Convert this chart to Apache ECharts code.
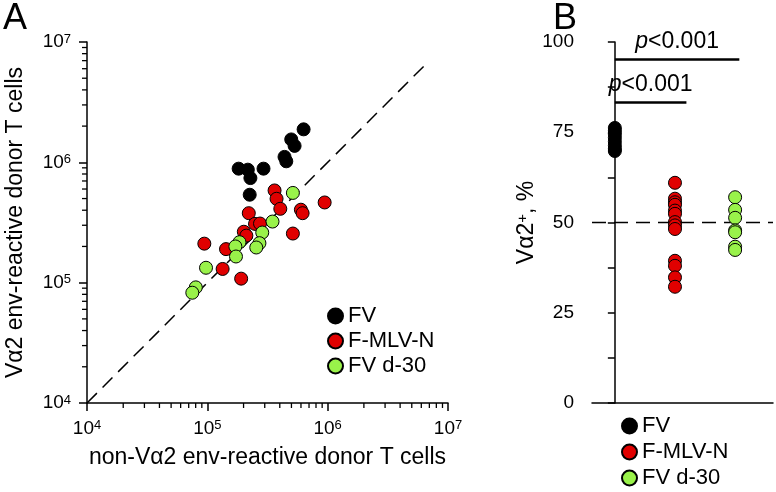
<!DOCTYPE html>
<html><head><meta charset="utf-8">
<script src="https://cdn.jsdelivr.net/npm/echarts@6/dist/echarts.min.js"></script>
<style>html,body{margin:0;padding:0;background:#fff}#c{width:776px;height:492px}</style>
</head><body><div id="c"></div>
<script>
// ---- data ----
const seriesNames = ['FV', 'F-MLV-N', 'FV d-30'];
const seriesColors = ['#000000', '#e00000', '#99f24a'];

// Panel A: [non-Vα2 env-reactive, Vα2 env-reactive] donor T cells
const fvA = [[6.31e5,1.88e6],[4.98e5,1.55e6],[5.31e5,1.37e6],[4.38e5,1.11e6],[4.53e5,1.02e6],
             [2.93e5,8.86e5],[1.82e5,8.86e5],[2.17e5,8.69e5],[2.28e5,7.40e5],[2.25e5,5.38e5]];
const fmlvA = [[3.62e5,5.84e5],[3.76e5,4.98e5],[4.04e5,4.11e5],[5.99e5,4.04e5],[6.19e5,3.78e5],
               [9.44e5,4.64e5],[2.21e5,3.78e5],[2.49e5,3.08e5],[2.74e5,3.10e5],[2.01e5,2.65e5],
               [2.11e5,2.46e5],[5.14e5,2.56e5],[9.44e4,2.11e5],[1.43e5,1.90e5],[1.34e5,1.30e5],
               [1.91e5,1.08e5]];
const d30A = [[5.14e5,5.57e5],[3.48e5,3.22e5],[2.86e5,2.61e5],[2.71e5,2.13e5],[2.55e5,1.96e5],
              [1.85e5,2.17e5],[1.71e5,2.00e5],[1.73e5,1.65e5],[9.75e4,1.33e5],[8.02e4,9.14e4],
              [7.50e4,8.25e4]];
const diagA = [1e4, 6.8e6];
const logRangeA = [1e4, 1e7];
const minorTicksA = [2e4,3e4,4e4,5e4,6e4,7e4,8e4,9e4,
                     2e5,3e5,4e5,5e5,6e5,7e5,8e5,9e5,
                     2e6,3e6,4e6,5e6,6e6,7e6,8e6,9e6];

// Panel B: Vα2+ %
const groupsB = ['FV', 'F-MLV-N', 'FV d-30'];
const fvB = [76.2, 75.4, 74.5, 73.5, 72.4, 71.3, 70.4, 69.8];
const fmlvB = [61.0, 56.6, 55.6, 54.9, 53.3, 52.4, 50.1, 49.2, 48.2, 39.4, 38.0, 34.8, 32.2];
const d30B = [57.0, 53.5, 51.3, 47.8, 47.3, 43.3, 42.4];
const refB = 50;
const yLabelsB = [0, 25, 50, 75, 100];
const sigB = [ {from: 0, to: 2.07, y: 95.2, text: 'p<0.001'},
               {from: 0, to: 1.19, y: 83.3, text: 'p<0.001'} ];

// ---- chart ----
const FONT = 'Liberation Sans, Arial, Helvetica, sans-serif';
const chart = echarts.init(document.getElementById('c'), null, {renderer: 'canvas'});
const axisLine = {show: true, lineStyle: {color: '#000', width: 1.5}};
const supRich = {
  b: {fontSize: 19, color: '#000', fontFamily: FONT},
  s: {fontSize: 13, color: '#000', fontFamily: FONT, verticalAlign: 'top'}
};
const powLabel = v => '{b|10}{s|' + Math.round(Math.log10(v)) + '}';

function scatter(name, idx, data, xi, yi) {
  return {
    type: 'scatter', name: name, xAxisIndex: xi, yAxisIndex: yi, data: data,
    symbolSize: 13, z: 3 + idx,
    itemStyle: {color: seriesColors[idx], borderColor: '#000', borderWidth: 1, opacity: 1}
  };
}
function minorTicks(dir) {
  return {
    type: 'custom', xAxisIndex: 0, yAxisIndex: 0, silent: true, clip: false, z: 2,
    data: minorTicksA.map(v => [v, v]),
    renderItem: function (params, api) {
      const v = api.value(0);
      if (dir === 'x') {
        const p = api.coord([v, logRangeA[0]]);
        return {type: 'line', shape: {x1: p[0], y1: p[1], x2: p[0], y2: p[1] + 5},
                style: {stroke: '#000', lineWidth: 1.3}};
      }
      const p = api.coord([logRangeA[0], v]);
      return {type: 'line', shape: {x1: p[0], y1: p[1], x2: p[0] - 5, y2: p[1]},
              style: {stroke: '#000', lineWidth: 1.3}};
    }
  };
}

const option = {
  animation: false,
  backgroundColor: '#fff',
  textStyle: {fontFamily: FONT, color: '#000'},
  grid: [
    {left: 87, top: 42, width: 361, height: 361},
    {left: 592, top: 42, width: 181, height: 361}
  ],
  xAxis: [
    {type: 'log', logBase: 10, gridIndex: 0, min: logRangeA[0], max: logRangeA[1], position: 'bottom',
     axisLine: axisLine, axisTick: {show: true, length: 8, lineStyle: {color: '#000', width: 1.5}},
     axisLabel: {formatter: powLabel, rich: supRich, margin: 16},
     splitLine: {show: false},
     name: 'non-Vα2 env-reactive donor T cells', nameLocation: 'middle', nameGap: 43,
     nameTextStyle: {fontSize: 23, color: '#000', fontFamily: FONT}},
    {type: 'value', gridIndex: 1, min: -0.38, max: 2.63, position: 'bottom',
     axisLine: axisLine, axisTick: {show: false}, axisLabel: {show: false}, splitLine: {show: false}}
  ],
  yAxis: [
    {type: 'log', logBase: 10, gridIndex: 0, min: logRangeA[0], max: logRangeA[1], position: 'left',
     axisLine: axisLine, axisTick: {show: true, length: 8, lineStyle: {color: '#000', width: 1.5}},
     axisLabel: {formatter: powLabel, rich: supRich, margin: 16},
     splitLine: {show: false},
     name: 'Vα2 env-reactive donor T cells', nameLocation: 'middle', nameGap: 60, nameRotate: 90,
     nameTextStyle: {fontSize: 23, color: '#000', fontFamily: FONT}},
    {type: 'value', gridIndex: 1, min: 0, max: 100, interval: 12.5, position: 'left',
     axisLine: axisLine, axisTick: {show: true, length: 7, lineStyle: {color: '#000', width: 1.5}},
     axisLabel: {fontSize: 19, color: '#000', margin: 18,
                 formatter: v => (yLabelsB.indexOf(v) >= 0 ? String(v) : '')},
     splitLine: {show: false},
     name: '{a|Vα2}{s|+}{a|, %}', nameLocation: 'middle', nameGap: 40, nameRotate: 90,
     nameTextStyle: {rich: {a: {fontSize: 23, color: '#000', fontFamily: FONT},
                            s: {fontSize: 15, color: '#000', fontFamily: FONT, verticalAlign: 'top'}}}}
  ],
  legend: [
    {data: seriesNames, orient: 'vertical', left: 327, top: 305, padding: 0,
     itemWidth: 15, itemHeight: 15, itemGap: 3, icon: 'circle',
     textStyle: {fontSize: 22, color: '#000', fontFamily: FONT}},
    {data: seriesNames, orient: 'vertical', left: 621, top: 415, padding: 0,
     itemWidth: 15, itemHeight: 15, itemGap: 4, icon: 'circle',
     textStyle: {fontSize: 22, color: '#000', fontFamily: FONT}}
  ],
  graphic: [
    {type: 'text', left: 3, top: 1, style: {text: 'A', fontSize: 36, fill: '#000', fontFamily: FONT}},
    {type: 'text', left: 553, top: 1, style: {text: 'B', fontSize: 36, fill: '#000', fontFamily: FONT}}
  ],
  series: [
    {type: 'line', name: 'diag', xAxisIndex: 0, yAxisIndex: 0, data: [[diagA[0], diagA[0]], [diagA[1], diagA[1]]],
     symbol: 'none', silent: true, z: 1, lineStyle: {color: '#000', width: 1.5, type: [14, 8]}},
    minorTicks('x'),
    minorTicks('y'),
    scatter(seriesNames[0], 0, fvA, 0, 0),
    scatter(seriesNames[1], 1, fmlvA, 0, 0),
    scatter(seriesNames[2], 2, d30A, 0, 0),
    {type: 'line', name: 'ref', xAxisIndex: 1, yAxisIndex: 1, data: [[-0.38, refB], [2.63, refB]],
     symbol: 'none', silent: true, z: 1, lineStyle: {color: '#000', width: 1.5, type: [14, 8]},
     markLine: {
       silent: true, symbol: ['none', 'none'], animation: false,
       lineStyle: {color: '#000', width: 2.5, type: 'solid'},
       label: {show: true, position: 'insideMiddleTop', distance: 6,
               formatter: p => '{i|p}{n|' + p.name.slice(1) + '}',
               rich: {i: {fontSize: 23, fontStyle: 'italic', color: '#000', fontFamily: FONT},
                      n: {fontSize: 23, color: '#000', fontFamily: FONT}}},
       emphasis: {disabled: true},
       data: sigB.map(s => [{name: s.text, coord: [s.from, s.y]}, {coord: [s.to, s.y]}])
     }},
    scatter(seriesNames[0], 0, fvB.map(v => [groupsB.indexOf('FV'), v]), 1, 1),
    scatter(seriesNames[1], 1, fmlvB.map(v => [groupsB.indexOf('F-MLV-N'), v]), 1, 1),
    scatter(seriesNames[2], 2, d30B.map(v => [groupsB.indexOf('FV d-30'), v]), 1, 1)
  ]
};
chart.setOption(option);
</script>
</body></html>
